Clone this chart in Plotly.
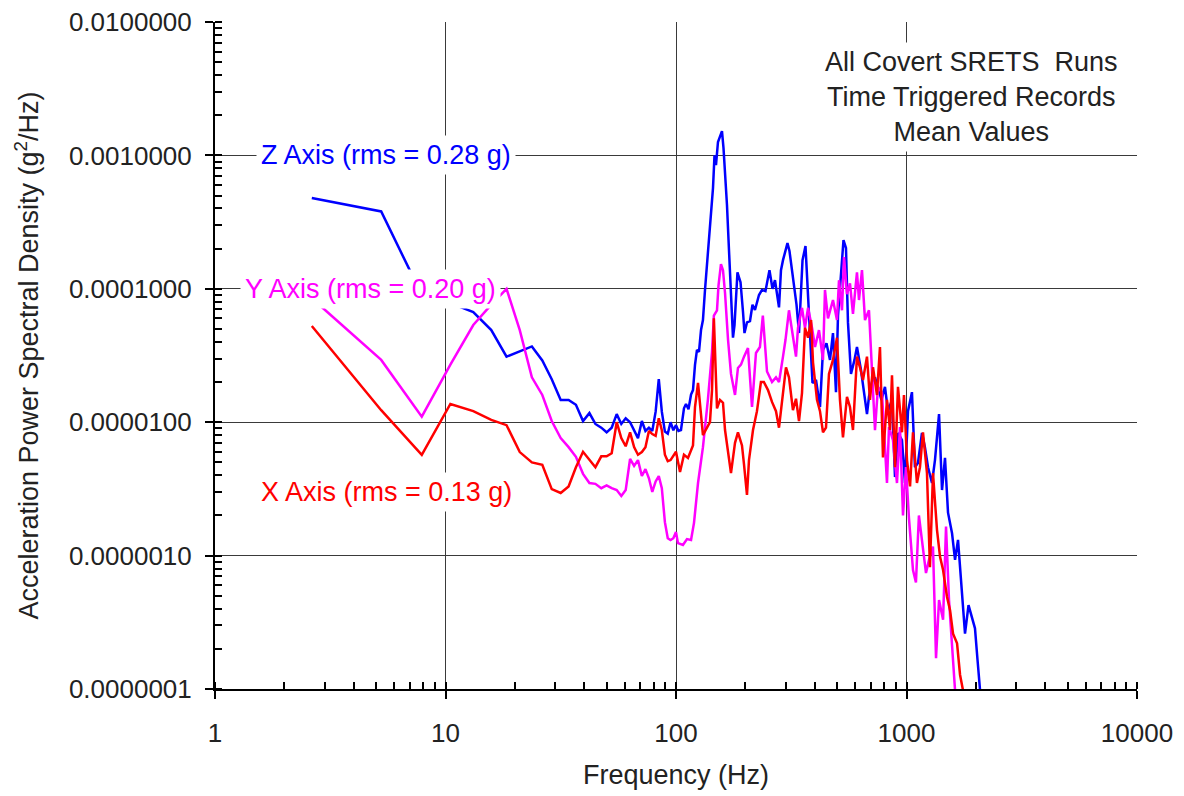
import math
import plotly.graph_objects as go

# ---------------- data ----------------
low_freq_hz = [2.63, 5.26, 7.89, 10.5, 13.2, 15.8, 18.4, 21.0, 23.7, 26.3, 28.9, 31.6,
               34.2, 36.8, 39.5, 42.1, 44.7, 47.4, 50.0, 52.6, 55.3, 57.9, 60.5, 63.2,
               65.8, 68.4, 71.1, 73.7, 76.3, 78.9, 81.6, 84.2, 86.8, 89.5, 92.1, 94.7,
               97.4, 100.0]

z_low_psd = [4.8e-4, 3.8e-4, 9.0e-5, 7.8e-5, 6.7e-5, 4.9e-5, 3.1e-5, 3.4e-5, 3.7e-5, 2.9e-5,
             2.1e-5, 1.47e-5, 1.47e-5, 1.35e-5, 1.02e-5, 1.17e-5, 9.7e-6, 9.1e-6, 8.4e-6,
             9.1e-6, 1.15e-5, 9.7e-6, 1.07e-5, 1.0e-5, 8.7e-6, 7.6e-6, 1.02e-5, 8.6e-6,
             9.1e-6, 8.6e-6, 1.2e-5, 2.1e-5, 1.2e-5, 8.5e-6, 8.2e-6, 1.0e-5, 8.7e-6, 9.5e-6]

y_low_psd = [8.5e-5, 2.93e-5, 1.1e-5, 2.7e-5, 5.35e-5, 7.6e-5, 1.0e-4, 4.9e-5, 2.17e-5, 1.6e-5,
             1.02e-5, 7.6e-6, 6.5e-6, 5.5e-6, 4.1e-6, 3.5e-6, 3.45e-6, 3.2e-6, 3.36e-6,
             3.2e-6, 3.1e-6, 2.8e-6, 3.1e-6, 5.3e-6, 4.7e-6, 5.2e-6, 3.95e-6, 4.45e-6,
             3.8e-6, 3.0e-6, 3.6e-6, 3.95e-6, 3.2e-6, 1.78e-6, 1.35e-6, 1.31e-6, 1.35e-6, 1.5e-6]

x_low_psd = [5.26e-5, 1.23e-5, 5.7e-6, 1.37e-5, 1.21e-5, 1.04e-5, 9.5e-6, 5.97e-6, 5.0e-6,
             4.8e-6, 3.15e-6, 2.95e-6, 3.3e-6, 4.6e-6, 6.0e-6, 5.2e-6, 4.6e-6, 5.55e-6,
             5.55e-6, 5.85e-6, 1.0e-5, 7.6e-6, 6.6e-6, 8.4e-6, 6.5e-6, 5.7e-6, 5.97e-6,
             6.5e-6, 8.6e-6, 8.15e-6, 7.9e-6, 1.07e-5, 8.7e-6, 5.7e-6, 5.1e-6, 5.2e-6,
             5.6e-6, 6.0e-6]

z_high_freq_hz = [102.5, 105.1, 108.3, 110.5, 113.3, 116.2, 118.5, 120.9, 123.3, 125.8, 128.4,
                  130.9, 133.6, 136.2, 139.0, 141.8, 144.7, 146.9, 149.1, 152.1, 155.2, 158.3,
                  160.7, 164.0, 166.4, 169.0, 171.5, 174.1, 176.7, 179.4, 182.1, 184.8, 187.6,
                  190.5, 195.3, 198.2, 203.2, 209.4, 214.7, 220.1, 229.1, 236.0, 244.4, 249.4,
                  254.4, 262.2, 268.8, 279.8, 285.4, 291.2, 304.5, 310.7, 323.3, 333.3, 341.7,
                  353.9, 364.6, 375.7, 391.0, 404.9, 421.4, 434.2, 449.6, 465.7, 479.8, 494.4,
                  504.4, 532.9, 546.3, 557.3, 574.3, 594.7, 609.7, 634.6, 653.9, 673.8, 687.4,
                  708.3, 729.9, 752.1, 778.8, 806.6, 831.2, 865.1, 891.4, 918.4, 955.8, 984.9,
                  1015, 1056, 1088, 1121, 1167, 1202, 1240, 1290, 1329, 1384, 1426, 1469, 1514,
                  1576, 1624, 1673, 1741, 1794, 1858, 1924, 1982, 2033, 2085]
z_high_psd = [8.6e-6, 8.74e-6, 1.27e-5, 1.37e-5, 1.25e-5, 1.61e-5, 1.74e-5, 2.69e-5, 3.48e-5,
              3.36e-5, 4.91e-5, 5.83e-5, 9.8e-5, 1.5e-4, 2.32e-4, 3.9e-4, 5.69e-4, 1.0e-3,
              8.47e-4, 1.26e-3, 1.4e-3, 1.52e-3, 1.14e-3, 6.54e-4, 4.25e-4, 2.32e-4, 1.27e-4,
              6.0e-5, 4.3e-5, 5.35e-5, 8.7e-5, 1.33e-4, 1.22e-4, 1.12e-4, 6.7e-5, 4.66e-5,
              5.6e-5, 5.73e-5, 7.6e-5, 6.93e-5, 8.98e-5, 9.8e-5, 9.6e-5, 1.12e-4, 1.38e-4,
              1.0e-4, 1.16e-4, 7.25e-5, 1.38e-4, 1.64e-4, 2.2e-4, 1.92e-4, 1.16e-4, 7.6e-5,
              4.66e-5, 1.64e-4, 2.09e-4, 7.8e-5, 1.97e-5, 2.07e-5, 1.3e-5, 3.48e-5, 3.9e-5,
              2.93e-5, 4.66e-5, 1.68e-5, 6.3e-5, 2.32e-4, 2.02e-4, 5.6e-5, 2.3e-5, 2.93e-5,
              3.66e-5, 2.46e-5, 1.66e-5, 1.15e-5, 1.55e-5, 2.0e-5, 2.17e-5, 1.84e-5, 1.47e-5,
              1.84e-5, 1.21e-5, 1.47e-5, 3.88e-6, 8.3e-6, 7.35e-6, 3.5e-6, 1.21e-5, 1.68e-5,
              4.6e-6, 4.94e-6, 8.3e-6, 6.5e-6, 4.6e-6, 3.5e-6, 5.2e-6, 1.15e-5, 3.1e-6, 5.4e-6,
              2.1e-6, 1.47e-6, 9.3e-7, 1.31e-6, 5.2e-7, 2.6e-7, 4.25e-7, 3.4e-7, 2.85e-7,
              1.65e-7, 9.8e-8]

y_high_freq_hz = [102.0, 107.2, 111.6, 116.2, 119.7, 124.6, 130.9, 137.5, 143.3, 146.0, 150.6,
                  152.9, 156.7, 159.9, 163.2, 168.2, 173.2, 180.3, 185.7, 191.4, 197.3, 205.2,
                  213.7, 222.3, 231.3, 238.1, 248.2, 260.9, 271.5, 279.8, 291.2, 298.5, 309.1,
                  321.6, 331.6, 338.3, 352.1, 362.7, 374.0, 389.1, 401.0, 417.2, 434.2, 442.9,
                  456.4, 479.8, 499.4, 509.4, 525.0, 535.6, 551.8, 568.6, 585.8, 609.7, 622.0,
                  641.0, 660.5, 687.4, 708.3, 729.9, 752.1, 782.7, 822.8, 839.5, 873.6, 909.3,
                  937.0, 965.5, 994.8, 1025, 1067, 1099, 1132, 1179, 1215, 1252, 1303, 1343,
                  1384, 1441, 1484, 1529, 1592, 1624]
y_high_psd = [1.24e-6, 1.2e-6, 1.33e-6, 1.31e-6, 1.76e-6, 3.5e-6, 6.5e-6, 1.47e-5, 3.36e-5,
              6.3e-5, 6.9e-5, 1.06e-4, 1.53e-4, 1.38e-4, 9.3e-5, 4.13e-5, 2.3e-5, 1.6e-5,
              2.55e-5, 2.7e-5, 3.1e-5, 3.6e-5, 1.3e-5, 3.3e-5, 3.66e-5, 6.3e-5, 2.4e-5, 2.0e-5,
              2.17e-5, 2.0e-5, 3.1e-5, 4.13e-5, 6.9e-5, 4.3e-5, 3.1e-5, 5.1e-5, 7.2e-5, 5.1e-5,
              7.2e-5, 5.1e-5, 3.66e-5, 4.9e-5, 2.93e-5, 9.8e-5, 6.0e-5, 8.24e-5, 5.83e-5,
              1.16e-4, 6.9e-5, 1.73e-4, 9.1e-5, 1.1e-4, 6.5e-5, 1.33e-4, 8.24e-5, 1.38e-4,
              5.83e-5, 6.9e-5, 2.3e-5, 8.7e-6, 1.84e-5, 1.66e-5, 3.5e-6, 9.2e-6, 7.35e-6,
              3.5e-6, 9.2e-6, 2.0e-6, 4.6e-6, 1.9e-6, 7.8e-7, 6.3e-7, 2.0e-6, 1.15e-6, 7.4e-7,
              9.3e-7, 1.17e-6, 1.7e-7, 4.65e-7, 3.3e-7, 1.65e-6, 4.65e-7, 1.65e-7, 9.8e-8]

x_high_freq_hz = [104.1, 108.3, 112.7, 118.5, 120.9, 124.6, 130.9, 136.2, 140.4, 143.3, 146.0,
                  150.6, 155.2, 159.9, 163.2, 173.2, 180.3, 185.7, 193.3, 197.3, 203.2, 207.3,
                  215.8, 224.5, 233.6, 240.5, 250.7, 260.9, 271.5, 279.8, 291.2, 300.0, 309.1,
                  321.6, 331.6, 341.7, 352.1, 362.7, 374.0, 385.4, 393.1, 408.9, 421.4, 434.2,
                  447.4, 461.0, 479.8, 499.4, 514.5, 530.2, 551.8, 568.6, 585.8, 609.7, 628.3,
                  647.4, 673.8, 694.3, 715.4, 744.6, 767.2, 790.6, 822.8, 848.0, 865.1, 891.4,
                  918.4, 955.8, 975.1, 1005, 1036, 1067, 1110, 1144, 1179, 1227, 1264, 1303,
                  1356, 1398, 1441, 1499, 1545, 1592, 1657, 1707, 1758]
x_high_psd = [4.23e-6, 5.7e-6, 5.4e-6, 6.7e-6, 1.3e-5, 1.97e-5, 8.0e-6, 9.1e-6, 1.0e-5, 1.74e-5,
              6.0e-5, 1.27e-5, 1.47e-5, 1.4e-5, 8.74e-6, 4.15e-6, 7.0e-6, 8.4e-6, 6.7e-6,
              4.8e-6, 2.85e-6, 5.2e-6, 8.74e-6, 1.21e-5, 2.0e-5, 2.0e-5, 1.74e-5, 1.42e-5,
              1.21e-5, 9.1e-6, 1.6e-5, 2.58e-5, 2.17e-5, 1.23e-5, 1.5e-5, 1.02e-5, 1.66e-5,
              5.1e-5, 4.3e-5, 5.83e-5, 2.8e-5, 1.47e-5, 1.21e-5, 8.4e-6, 9.1e-6, 2.3e-5,
              2.93e-5, 4.3e-5, 1.47e-5, 7.7e-6, 1.55e-5, 1.3e-5, 8.74e-6, 3.1e-5, 2.58e-5,
              2.07e-5, 3.1e-5, 1.47e-5, 2.58e-5, 1.6e-5, 3.66e-5, 5.45e-6, 1.47e-5, 8.74e-6,
              2.25e-5, 4.6e-6, 1.84e-5, 8.4e-6, 1.6e-5, 5.2e-6, 3.3e-6, 8.4e-6, 3.5e-6, 4.6e-6,
              8.4e-6, 4.15e-6, 8.2e-7, 4.15e-6, 1.56e-6, 9.8e-7, 7.8e-7, 4.9e-7, 3.9e-7, 2.6e-7,
              2.2e-7, 1.28e-7, 9.8e-8]

series = [
    ("Z Axis", low_freq_hz + z_high_freq_hz, z_low_psd + z_high_psd, "#0000FF"),
    ("Y Axis", low_freq_hz + y_high_freq_hz, y_low_psd + y_high_psd, "#FF00FF"),
    ("X Axis", low_freq_hz + x_high_freq_hz, x_low_psd + x_high_psd, "#FF0000"),
]

labels = [
    ("Z Axis (rms = 0.28 g)", 5.52, 1.0e-3, "#0000FF"),
    ("Y Axis (rms = 0.20 g)", 4.75, 1.0e-4, "#FF00FF"),
    ("X Axis (rms = 0.13 g)", 5.52, 3.0e-6, "#FF0000"),
]

note_text = "All Covert SRETS  Runs<br>Time Triggered Records<br>Mean Values"

# ---------------- figure ----------------
FONT = "Liberation Sans, Arial, sans-serif"
TXT = "#222222"
fig = go.Figure()
for name, f, p, c in series:
    fig.add_trace(go.Scatter(x=f, y=p, mode="lines", name=name,
                             line=dict(color=c, width=2.5), showlegend=False))

for text, fx, py, c in labels:
    fig.add_annotation(x=math.log10(fx), y=math.log10(py),
                       xref="x", yref="y", text=text, showarrow=False,
                       font=dict(family=FONT, size=27, color=c),
                       bgcolor="white", borderpad=4, xanchor="center", yanchor="middle")

fig.add_annotation(x=math.log10(1920), y=math.log10(0.00274),
                   xref="x", yref="y", text=note_text, showarrow=False,
                   font=dict(family=FONT, size=27, color=TXT),
                   bgcolor="white", borderpad=4, xanchor="center", yanchor="middle", align="center")

axis_common = dict(
    type="log", dtick=1, showline=True, linecolor="black", linewidth=2,
    showgrid=True, gridcolor="#3a3a3a", gridwidth=1, zeroline=False,
    ticks="outside", ticklen=8, tickwidth=2, tickcolor="black",
    minor=dict(dtick="D1", ticks="inside", ticklen=7, tickwidth=1.5,
               tickcolor="black", showgrid=False),
    tickfont=dict(family=FONT, size=26, color=TXT),
    automargin=False, ticklabeloverflow="allow",
)

fig.update_xaxes(**axis_common, range=[0, 4], tickformat="d",
                 title=dict(text="Frequency (Hz)", font=dict(family=FONT, size=27, color=TXT),
                            standoff=18),
                 ticklabelstandoff=12)
fig.update_yaxes(**axis_common, range=[-7, -2], tickformat=".7f",
                 title=dict(text="Acceleration Power Spectral Density (g<sup>2</sup>/Hz)",
                            font=dict(family=FONT, size=27, color=TXT), standoff=22),
                 ticklabelstandoff=8)

# the page body adds an 8 px offset, so the figure is 8 px smaller on each side
fig.update_layout(
    width=1176, height=788,
    margin=dict(l=207, r=47, t=14, b=107, autoexpand=False),
    paper_bgcolor="white", plot_bgcolor="white",
)

fig.write_html("out.html")
